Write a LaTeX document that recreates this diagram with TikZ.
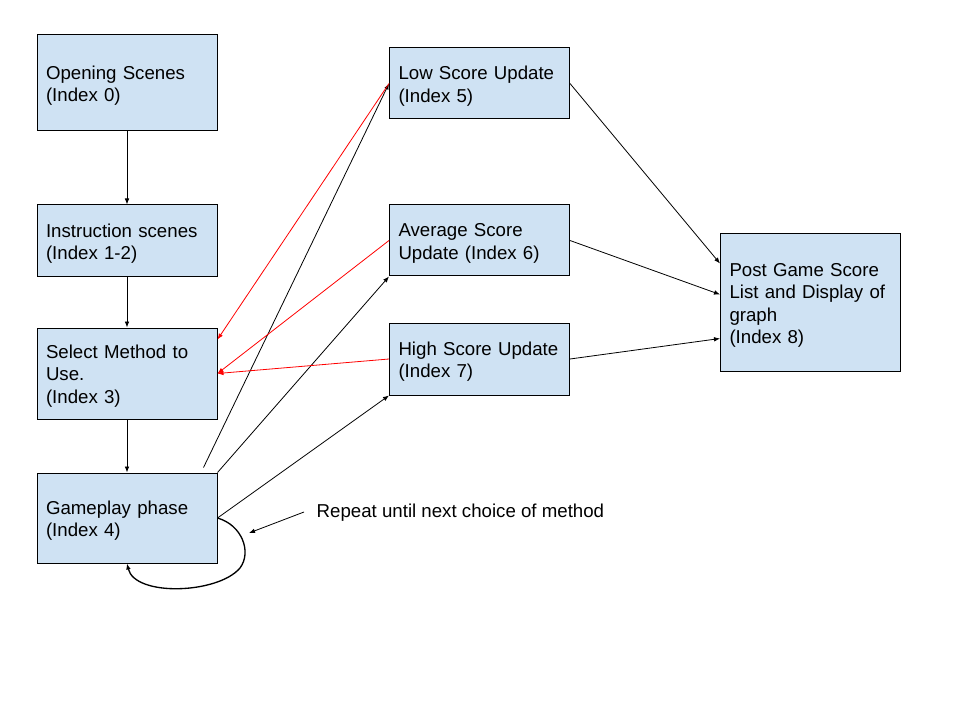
\documentclass[tikz,border=0pt]{standalone}
\usepackage{fontspec}
\setmainfont{Liberation Sans}
\usepackage{tikz}
\usetikzlibrary{arrows.meta, calc}
\definecolor{boxblue}{HTML}{CFE2F3}
\definecolor{backred}{HTML}{FF0000}
\tikzset{
  card/.style={draw=black, fill=boxblue, line width=0.75pt, minimum width=135pt,
               minimum height=#1, text width=121.5pt, inner xsep=6.75pt, align=left,
               text height=14pt, font=\fontsize{14}{16.8}\selectfont},
  flow/.style={-{Latex[length=4.5pt, width=3.5pt]}, line width=0.6pt},
  back/.style={flow, color=backred},
}

\begin{document}
\begin{tikzpicture}[x=0.75pt, y=-0.75pt]
  \useasboundingbox (0,0) rectangle (960,720);
  % left column
  \node[card=72pt] (open) at (127,83) {Opening Scenes\\(Index 0)};
  \node[card=54pt] (instr) at (127,241) {Instruction scenes\\(Index 1-2)};
  \node[card=68.25pt] (select) at (127,373.5) {Select Method to\\Use.\\(Index 3)};
  \node[card=67.5pt] (game) at (127,518) {Gameplay phase\\(Index 4)};
  % score updates
  \node[card=53.25pt] (low) at (479.5,83.5) {Low Score Update\\(Index 5)};
  \node[card=53.25pt] (avg) at (479.5,240.5) {Average Score\\Update (Index 6)};
  \node[card=54pt] (high) at (479.5,359) {High Score Update\\(Index 7)};
  \node[card=102.75pt] (post) at (810.5,302.5) {Post Game Score\\List and Display of\\graph\\(Index 8)};
  \draw[flow] (open) -- (instr);
  \draw[flow] (instr) -- (select);
  \draw[flow] (select) -- (game);
  \draw[flow] ($(game.north east)+(-14,-5)$) -- (low.west);
  \draw[flow] (game.north east) -- (avg.south west);
  \draw[flow] (game.east) -- (high.south west);
  % back to method choice
  \draw[back] (low.west) -- ($(select.north east)+(0,12)$);
  \draw[back] (avg.west) -- (select.east);
  \draw[back] (high.west) -- (select.east);
  \draw[flow] (low.east) -- ($(post.north west)+(0,30)$);
  \draw[flow] (avg.east) -- ($(post.west)+(0,-8)$);
  \draw[flow] (high.east) -- ($(post.west)+(0,36)$);
  % repeat loop
  \draw[flow, line width=1pt] (game.east) .. controls (242,525) and (252,552) .. (240,568)
    .. controls (218,594) and (135,597) .. (game.south);
  \node[anchor=west, font=\fontsize{14}{16.8}\selectfont] (rep) at (312,513) {Repeat until next choice of method};
  \coordinate (loopmark) at (249,533);
  \draw[flow] ($(rep.west)+(-8,-1)$) -- (loopmark);
\end{tikzpicture}
\end{document}
